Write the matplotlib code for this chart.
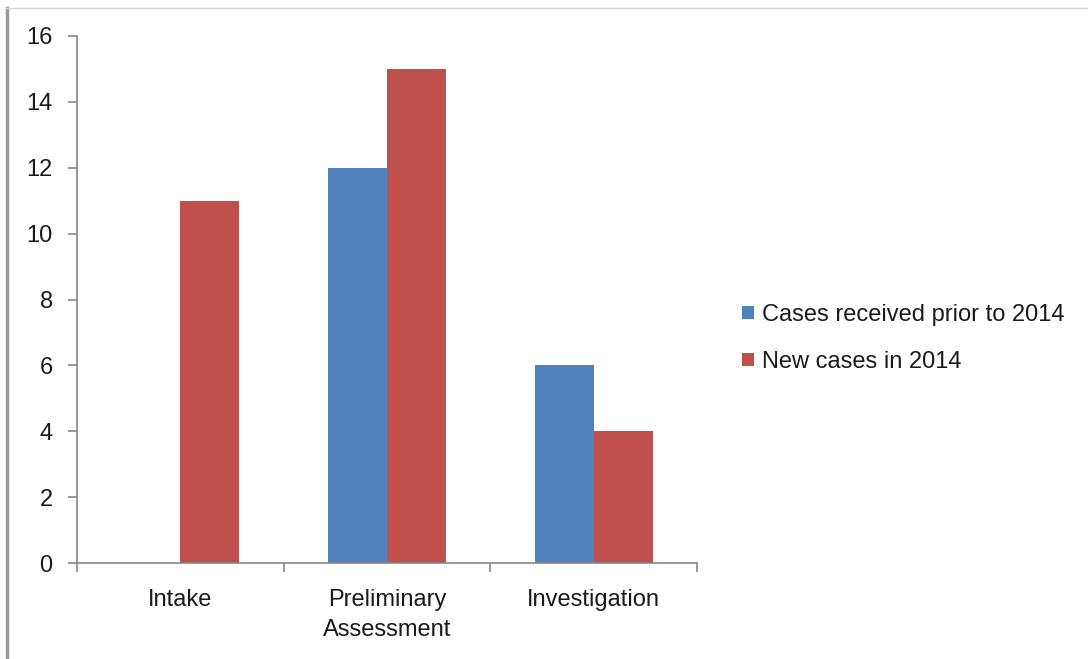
import matplotlib
matplotlib.use("Agg")
import matplotlib.pyplot as plt
import numpy as np
from matplotlib.lines import Line2D

# -----------------------------
# DATA
# -----------------------------
categories = ["Intake", "Preliminary\nAssessment", "Investigation"]
prior_cases = [0, 12, 6]
new_cases = [11, 15, 4]
series_names = ["Cases received prior to 2014", "New cases in 2014"]
y_ticks = [0, 2, 4, 6, 8, 10, 12, 14, 16]

blue = "#4F81BD"
red = "#C0504D"
axis_grey = "#868686"
text_col = "#1a1a1a"
fs = 17

plt.rcParams["font.family"] = ["Liberation Sans", "DejaVu Sans"]

fig = plt.figure(figsize=(10.88, 6.59), dpi=100)
ax = fig.add_axes([77 / 1088, 1 - 563 / 659, 620 / 1088, (563 - 36) / 659])

x = np.arange(len(categories))
width = 1 / 3.5  # excel gap width 150%

# no bar drawn for zero values
prior_plot = [v if v > 0 else np.nan for v in prior_cases]
ax.bar(x - width / 2, prior_plot, width, color=blue, label=series_names[0])
ax.bar(x + width / 2, new_cases, width, color=red, label=series_names[1])

ax.set_xlim(-0.5, len(categories) - 0.5)
ax.set_ylim(0, 16)
ax.set_yticks(y_ticks)
ax.set_yticklabels([str(t) for t in y_ticks], fontsize=fs, color=text_col)

# category labels centred, ticks at category boundaries
ax.set_xticks(x)
ax.set_xticklabels(categories, fontsize=fs, color=text_col, linespacing=1.42)
ax.tick_params(axis="x", length=0, pad=19)
ax.set_xticks(np.arange(-0.5, len(categories)), minor=True)
ax.tick_params(axis="x", which="minor", length=6.5, color=axis_grey, width=1.2)
ax.tick_params(axis="y", length=6.5, color=axis_grey, width=1.2, pad=11)

for side in ["top", "right"]:
    ax.spines[side].set_visible(False)
for side in ["left", "bottom"]:
    ax.spines[side].set_color(axis_grey)
    ax.spines[side].set_linewidth(1.2)

leg = fig.legend(
    loc="upper left",
    bbox_to_anchor=(742 / 1088, 1 - 304 / 659),
    frameon=False,
    fontsize=fs,
    borderpad=0,
    borderaxespad=0,
    handlelength=0.5,
    handleheight=0.5,
    handletextpad=0.35,
    labelspacing=1.05,
)
for t in leg.get_texts():
    t.set_color(text_col)

# picture frame lines (left and top)
fig.add_artist(Line2D([7 / 1088, 7 / 1088], [0, 1 - 8 / 659], transform=fig.transFigure,
                      color="#9a9a9a", linewidth=2.5))
fig.add_artist(Line2D([6 / 1088, 1], [1 - 8 / 659, 1 - 8 / 659], transform=fig.transFigure,
                      color="#d4d4d4", linewidth=1))

fig.savefig("out.png", dpi=100)
